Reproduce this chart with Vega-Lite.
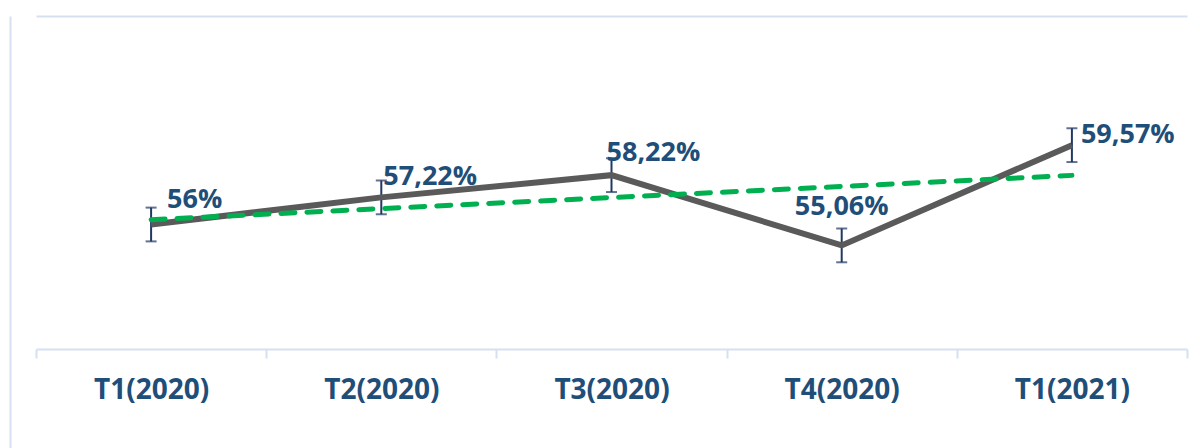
{
  "$schema": "https://vega.github.io/schema/vega-lite/v6.json",
  "autosize": {"type": "none"},
  "width": 1190,
  "height": 432,
  "padding": {"left": 10, "top": 16, "right": 0, "bottom": 0},
  "background": "white",
  "config": {"view": {"stroke": null}},
  "data": {
    "values": [
      {"cat": "T1(2020)", "v": 56.00, "lo": 55.24, "hi": 56.76, "t": 56.218, "label": "56%"},
      {"cat": "T2(2020)", "v": 57.22, "lo": 56.46, "hi": 57.98, "t": 56.716, "label": "57,22%"},
      {"cat": "T3(2020)", "v": 58.22, "lo": 57.46, "hi": 58.98, "t": 57.214, "label": "58,22%"},
      {"cat": "T4(2020)", "v": 55.06, "lo": 54.30, "hi": 55.82, "t": 57.712, "label": "55,06%"},
      {"cat": "T1(2021)", "v": 59.57, "lo": 58.81, "hi": 60.33, "t": 58.210, "label": "59,57%"}
    ]
  },
  "encoding": {
    "x": {
      "field": "cat",
      "type": "nominal",
      "sort": null,
      "scale": {"range": [26, 1177], "paddingInner": 0, "paddingOuter": 0},
      "axis": {
        "title": null,
        "labelAngle": 0,
        "offset": -99,
        "domainColor": "#D6E0F1",
        "domainWidth": 2,
        "tickColor": "#D6E0F1",
        "tickWidth": 2,
        "tickSize": 9,
        "tickBand": "extent",
        "labelFont": "Open Sans",
        "labelFontWeight": "bold",
        "labelFontSize": 28,
        "labelColor": "#1F4E79",
        "labelPadding": 18
      }
    }
  },
  "layer": [
    {
      "mark": {"type": "errorbar", "ticks": {"size": 11, "thickness": 2, "color": "#1F3864"}, "rule": {"strokeWidth": 2, "color": "#1F3864"}},
      "encoding": {
        "y": {"field": "lo", "type": "quantitative", "scale": {"domain": [45.945, 65.38], "nice": false, "zero": false}, "axis": {"title": null, "values": [65.38], "grid": true, "gridColor": "#D6E0F1", "gridWidth": 2, "domain": true, "domainColor": "#D6E0F1", "domainWidth": 2, "ticks": false, "labels": false}},
        "y2": {"field": "hi"}
      }
    },
    {
      "mark": {"type": "line", "color": "#5A5A5A", "strokeWidth": 6, "strokeJoin": "miter"},
      "encoding": {
        "y": {"field": "v", "type": "quantitative", "scale": {"domain": [45.945, 65.38], "nice": false, "zero": false}, "axis": {"title": null, "values": [65.38], "grid": true, "gridColor": "#D6E0F1", "gridWidth": 2, "domain": true, "domainColor": "#D6E0F1", "domainWidth": 2, "ticks": false, "labels": false}}
      }
    },
    {
      "mark": {"type": "line", "color": "#00B050", "strokeWidth": 5, "strokeDash": [14, 12], "strokeCap": "round"},
      "encoding": {
        "y": {"field": "t", "type": "quantitative", "scale": {"domain": [45.945, 65.38], "nice": false, "zero": false}, "axis": {"title": null, "values": [65.38], "grid": true, "gridColor": "#D6E0F1", "gridWidth": 2, "domain": true, "domainColor": "#D6E0F1", "domainWidth": 2, "ticks": false, "labels": false}}
      }
    },
    {
      "mark": {
        "type": "text",
        "font": "Open Sans",
        "fontWeight": "bold",
        "fontSize": 27,
        "color": "#1F4E79",
        "baseline": "alphabetic",
        "align": {"expr": "datum.cat === 'T4(2020)' ? 'center' : 'left'"},
        "dx": {"expr": "datum.cat === 'T1(2020)' ? 16 : datum.cat === 'T2(2020)' ? 2 : datum.cat === 'T3(2020)' ? -5 : datum.cat === 'T4(2020)' ? 0 : 9"},
        "dy": {"expr": "datum.cat === 'T1(2020)' ? -16 : datum.cat === 'T2(2020)' ? -12 : datum.cat === 'T3(2020)' ? -14 : datum.cat === 'T4(2020)' ? -30 : -2"}
      },
      "encoding": {
        "y": {"field": "v", "type": "quantitative", "scale": {"domain": [45.945, 65.38], "nice": false, "zero": false}, "axis": {"title": null, "values": [65.38], "grid": true, "gridColor": "#D6E0F1", "gridWidth": 2, "domain": true, "domainColor": "#D6E0F1", "domainWidth": 2, "ticks": false, "labels": false}},
        "text": {"field": "label"}
      }
    }
  ]
}
